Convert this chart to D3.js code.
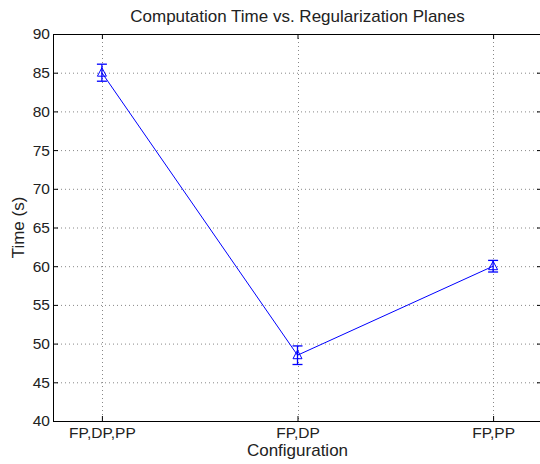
<!DOCTYPE html>
<html><head><meta charset="utf-8">
<script src="https://cdn.jsdelivr.net/npm/d3@7"></script>
<style>body{margin:0;background:#fff}svg{display:block}text{font-family:"Liberation Sans",Arial,sans-serif;fill:#222}</style>
</head><body><svg id="c" width="540" height="464"></svg>
<script>
const categories = ["FP,DP,PP", "FP,DP", "FP,PP"];
const times = [85.0, 48.5, 60.0];
const errors = [1.1, 1.2, 0.75];
const yTicks = [40, 45, 50, 55, 60, 65, 70, 75, 80, 85, 90];

const svg = d3.select("#c");
const L = 53, R = 542, T = 34, B = 421;
const x = d3.scaleLinear().domain([0.75, 3.25]).range([L, R]);
const y = d3.scaleLinear().domain([40, 90]).range([B, T]);
const xi = categories.map((c, i) => i + 1);

// grid
const g = svg.append("g");
g.selectAll(".gy").data(yTicks.slice(1, -1)).join("line")
  .attr("x1", L).attr("x2", R).attr("y1", d => y(d) + 0.5).attr("y2", d => y(d) + 0.5)
  .attr("stroke", "#888").attr("stroke-dasharray", "1,3");
g.selectAll(".gx").data(xi).join("line")
  .attr("x1", d => Math.round(x(d)) + 0.5).attr("x2", d => Math.round(x(d)) + 0.5).attr("y1", T).attr("y2", B)
  .attr("stroke", "#888").attr("stroke-dasharray", "1,3");

// axes
const yAxisL = d3.axisLeft(y).tickValues(yTicks).tickSizeInner(-5).tickSizeOuter(0).tickPadding(3);
const yAxisR = d3.axisRight(y).tickValues(yTicks).tickSizeInner(-5).tickSizeOuter(0).tickFormat("");
const xAxisB = d3.axisBottom(x).tickValues(xi).tickFormat((d, i) => categories[i]).tickSizeInner(-5).tickSizeOuter(0).tickPadding(6);
const xAxisT = d3.axisTop(x).tickValues(xi).tickSizeInner(-5).tickSizeOuter(0).tickFormat("");

function style(sel) {
  sel.selectAll("path").attr("stroke", "#000").attr("stroke-width", 1);
  sel.selectAll("line").attr("stroke", "#000");
  sel.selectAll("text").attr("font-size", 15.5).attr("fill", "#222").attr("font-family", '"Liberation Sans",Arial,sans-serif');
}
svg.append("g").attr("transform", `translate(${L},0)`).call(yAxisL).call(style);
svg.append("g").attr("transform", `translate(${R},0)`).call(yAxisR).call(style);
svg.append("g").attr("transform", `translate(0,${B})`).call(xAxisB).call(style);
svg.append("g").attr("transform", `translate(0,${T})`).call(xAxisT).call(style);

// data line
const blue = "#0000ff";
svg.append("path").datum(times)
  .attr("d", d3.line().x((d, i) => x(xi[i])).y(d => y(d)))
  .attr("fill", "none").attr("stroke", blue).attr("stroke-width", 1);

// error bars
const eb = svg.append("g").attr("stroke", blue).attr("stroke-width", 1.3);
times.forEach((t, i) => {
  const cx = x(xi[i]);
  eb.append("line").attr("x1", cx).attr("x2", cx).attr("y1", y(t - errors[i])).attr("y2", y(t + errors[i]));
  eb.append("line").attr("x1", cx - 5).attr("x2", cx + 5).attr("y1", y(t - errors[i])).attr("y2", y(t - errors[i]));
  eb.append("line").attr("x1", cx - 5).attr("x2", cx + 5).attr("y1", y(t + errors[i])).attr("y2", y(t + errors[i]));
});

// markers
svg.selectAll(".m").data(times).join("path")
  .attr("transform", (d, i) => `translate(${x(xi[i])},${y(d)})`)
  .attr("d", "M0,-5L4.5,3.5L-4.5,3.5Z")
  .attr("fill", "none").attr("stroke", blue).attr("stroke-width", 1);

// labels
svg.append("text").attr("x", (L + R) / 2).attr("y", 22).attr("text-anchor", "middle").attr("font-size", 17).text("Computation Time vs. Regularization Planes");
svg.append("text").attr("x", (L + R) / 2).attr("y", 456).attr("text-anchor", "middle").attr("font-size", 17).text("Configuration");
svg.append("text").attr("transform", `translate(24,${(T + B) / 2}) rotate(-90)`).attr("text-anchor", "middle").attr("font-size", 17).text("Time (s)");
</script></body></html>
